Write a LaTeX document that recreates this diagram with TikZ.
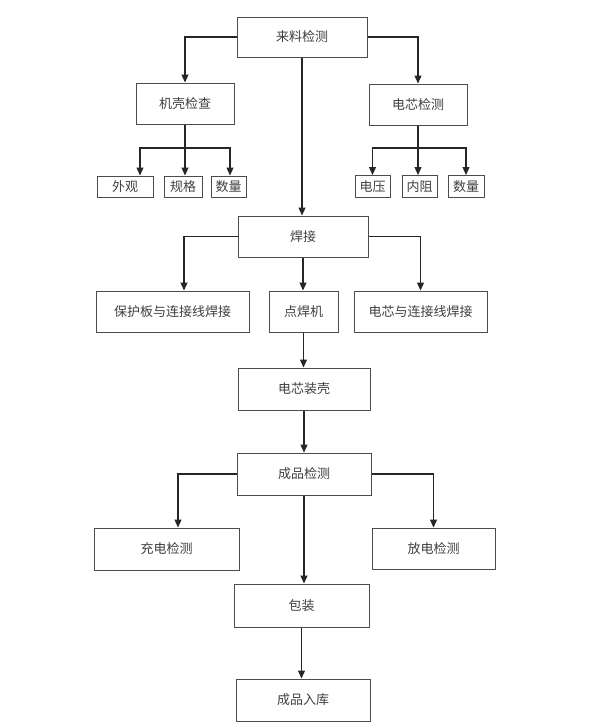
\documentclass[tikz,border=0pt]{standalone}
\usepackage{fontspec}
\setmainfont{Noto Sans CJK SC}
\usetikzlibrary{arrows.meta}

\begin{document}
\begin{tikzpicture}[x=1pt,y=-1pt,
  box/.style={draw=black!70,line width=1pt,fill=white,text=black!75,
    font=\fontsize{13}{15}\selectfont,inner sep=0pt},
  arr/.style={line width=1.2pt,draw=black!85,
    -{Triangle[length=8pt,width=7pt]}},
  ln/.style={line width=1.2pt,draw=black!85}]
\useasboundingbox[fill=white] (0,0) rectangle (600,728);

% first level
\node[box,minimum width=130,minimum height=40] (lailiao) at (302,37) {来料检测};
\node[box,minimum width=98,minimum height=41] (jike) at (185,103.5) {机壳检查};
\node[box,minimum width=98,minimum height=41] (dianxin) at (418,104.5) {电芯检测};

\node[box,minimum width=56,minimum height=21] (waiguan) at (125,186.5) {外观};
\node[box,minimum width=38,minimum height=21] (guige) at (183,186.5) {规格};
\node[box,minimum width=35,minimum height=21] (shuliangA) at (228.5,186.5) {数量};
\node[box,minimum width=35,minimum height=22] (dianya) at (372.5,186.5) {电压};
\node[box,minimum width=35,minimum height=22] (neizu) at (419.5,186.5) {内阻};
\node[box,minimum width=36,minimum height=22] (shuliangB) at (466,186.5) {数量};

% welding
\node[box,minimum width=130,minimum height=41] (hanjie) at (303,236.5) {焊接};
\node[box,minimum width=153,minimum height=41] (baohuban) at (172.5,311.5) {保护板与连接线焊接};
\node[box,minimum width=69,minimum height=41] (dianhanji) at (303.5,311.5) {点焊机};
\node[box,minimum width=133,minimum height=41] (lianjie) at (420.5,311.5) {电芯与连接线焊接};
\node[box,minimum width=132,minimum height=42] (zhuangke) at (304,389) {电芯装壳};

% final check
\node[box,minimum width=134,minimum height=42] (chengpin) at (304,474) {成品检测};
\node[box,minimum width=145,minimum height=42] (chongdian) at (166.5,549) {充电检测};
\node[box,minimum width=123,minimum height=41] (fangdian) at (433.5,548.5) {放电检测};
\node[box,minimum width=135,minimum height=43] (baozhuang) at (301.5,605.5) {包装};
\node[box,minimum width=134,minimum height=42] (ruku) at (303,700) {成品入库};

\coordinate (jk-split) at (185,148);
\coordinate (dx-split) at (418,148);

\draw[arr] (lailiao.west) -| (jike.north);
\draw[arr] (lailiao.east) -| (dianxin.north);
\draw[arr] (lailiao.south) -- (lailiao.south |- hanjie.north);

\draw[ln] (jike.south) -- (jk-split);
\draw[arr] (jk-split) -| ([xshift=15]waiguan.north);
\draw[arr] (jk-split) -- (jk-split |- guige.north);
\draw[arr] (jk-split) -| ([xshift=1.5]shuliangA.north);

\draw[ln] (dianxin.south) -- (dx-split);
\draw[arr] (dx-split) -| (dianya.north);
\draw[arr] (dx-split) -- (dx-split |- neizu.north);
\draw[arr] (dx-split) -| (shuliangB.north);

\draw[arr] (hanjie.west) -| ([xshift=11.5]baohuban.north);
\draw[arr] (hanjie.south) -- (hanjie.south |- dianhanji.north);
\draw[arr] (hanjie.east) -| (lianjie.north);
\draw[arr] (dianhanji.south) -- (dianhanji.south |- zhuangke.north);

\draw[arr] (zhuangke.south) -- (zhuangke.south |- chengpin.north);
\draw[arr] (chengpin.west) -| ([xshift=11.5]chongdian.north);
\draw[arr] (chengpin.east) -| (fangdian.north);
\draw[arr] (chengpin.south) -- (chengpin.south |- baozhuang.north);
\draw[arr] (baozhuang.south) -- (baozhuang.south |- ruku.north);
\end{tikzpicture}
\end{document}
